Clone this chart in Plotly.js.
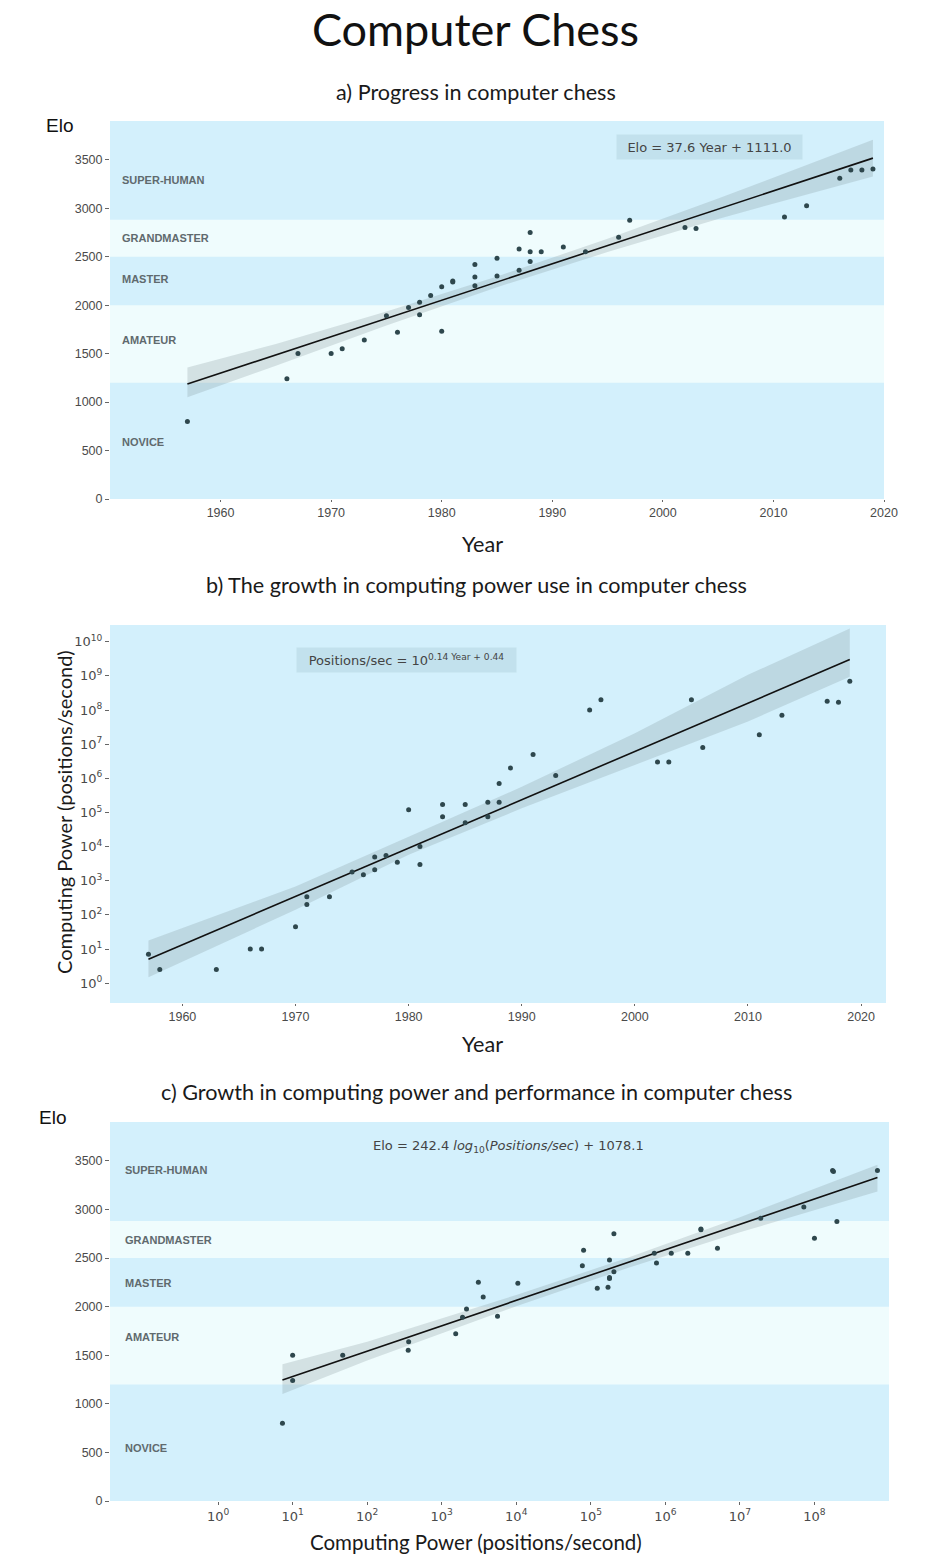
<!DOCTYPE html>
<html>
<head>
<meta charset="utf-8">
<script src="https://cdn.plot.ly/plotly-3.0.1.min.js"></script>
<style>html,body{margin:0;padding:0;background:#fff;}#chart{width:951px;height:1560px;}</style>
</head>
<body>
<div id="chart"></div>
<script>
// ---------- Panel a: Elo vs Year ----------
const yearA = [1957,1966,1967,1970,1971,1973,1975,1976,1977,1978,1978,1979,1980,1980,1981,1981,1983,1983,1983,1985,1985,1987,1987,1988,1988,1988,1989,1991,1993,1996,1997,2002,2003,2011,2013,2016,2017,2018,2019];
const eloA  = [800,1240,1500,1500,1550,1640,1890,1720,1975,2030,1900,2100,2190,1730,2250,2240,2420,2290,2200,2485,2300,2580,2360,2750,2550,2450,2550,2600,2550,2700,2875,2800,2790,2910,3025,3310,3395,3395,3405];
const fitYearA = [1957, 2019];
const fitEloA  = [1186, 3517];
const bandYearA  = [1957,1965,1975,1985,1995,2005,2019];
const bandUpperA = [1356,1600,1935,2295,2685,3100,3706];
const bandLowerA = [1050,1375,1790,2185,2548,2890,3328];

// ---------- Panel b: positions/sec vs Year ----------
const yearB = [1957,1958,1963,1966,1967,1970,1971,1971,1973,1975,1976,1977,1977,1978,1979,1980,1981,1981,1983,1983,1985,1985,1987,1987,1988,1988,1989,1991,1993,1996,1997,2002,2003,2005,2006,2011,2013,2017,2018,2019];
const posB  = [7,2.5,2.5,10,10,45,340,200,340,1800,1500,5000,2100,5500,3500,120000,10000,3000,170000,75000,170000,50000,200000,75000,200000,710000,2000000,5000000,1200000,1e8,2e8,3e6,3e6,2e8,8e6,1.9e7,7e7,1.8e8,1.7e8,7e8];
const fitYearB = [1957, 2019];
const fitPosB  = [5.0, 3.0e9];
const bandYearB  = [1957,1970,1980,1990,2000,2010,2019];
const bandUpperB = [17.8, 676, 19500, 562000, 2.1e7, 1.07e9, 2.45e10];
const bandLowerB = [1.5, 141, 5750, 132000, 2.45e6, 4.6e7, 9.5e8];

// ---------- Panel c: Elo vs positions/sec ----------
const posC = [7.3,10,10,47,360,355,1540,1900,2150,3100,3600,5600,10500,77000,80000,122000,170000,178000,178000,178000,204000,204000,710000,760000,1.2e6,2e6,3e6,3e6,5e6,1.9e7,7.2e7,1e8,1.75e8,1.8e8,2e8,7e8];
const eloC = [800,1500,1240,1500,1640,1550,1720,1890,1975,2250,2100,1900,2240,2420,2580,2190,2200,2480,2290,2300,2360,2750,2550,2450,2550,2550,2800,2790,2600,2910,3025,2705,3400,3390,2875,3400];
const fitPosC = [7.3, 7e8];
const fitEloC = [1246, 3328];
const bandPosC   = [7.3, 100, 1e4, 3.2e5, 1e7, 7e8];
const bandUpperC = [1407, 1640, 2120, 2505, 2920, 3459];
const bandLowerC = [1101, 1445, 2005, 2400, 2765, 3184];

// ---------- Tick labels ----------
const yearTicks = [1960,1970,1980,1990,2000,2010,2020];
const eloTicks = [0,500,1000,1500,2000,2500,3000,3500];
const logTicksB = [1,10,100,1e3,1e4,1e5,1e6,1e7,1e8,1e9,1e10];
const logTextB = ['10<sup>0</sup>','10<sup>1</sup>','10<sup>2</sup>','10<sup>3</sup>','10<sup>4</sup>','10<sup>5</sup>','10<sup>6</sup>','10<sup>7</sup>','10<sup>8</sup>','10<sup>9</sup>','10<sup>10</sup>'];
const logTicksC = [1,10,100,1e3,1e4,1e5,1e6,1e7,1e8];
const logTextC = ['10<sup>0</sup>','10<sup>1</sup>','10<sup>2</sup>','10<sup>3</sup>','10<sup>4</sup>','10<sup>5</sup>','10<sup>6</sup>','10<sup>7</sup>','10<sup>8</sup>'];

// ---------- Elo category bands ----------
const bandNames = ['NOVICE','AMATEUR','MASTER','GRANDMASTER','SUPER-HUMAN'];
const bandFrom  = [0, 1200, 2000, 2500, 2880];
const bandTo    = [1200, 2000, 2500, 2880, 3900];
const bandLabelEloA = [588, 1641, 2271, 2695, 3293];
const bandLabelEloC = [546, 1688, 2244, 2687, 3407];

// ---------- styling ----------
const W = 951, H = 1560;
const BG_DARK = '#d3f0fc', BG_LIGHT = '#effcfd';
const PT = '#2e474d';
const BANDFILL = 'rgba(115,130,135,0.22)';
const TICKFONT = {family: 'Liberation Sans, Arial, sans-serif', size: 12.5, color: '#4a4a4a'};
const px = (x) => x / W;
const py = (y) => 1 - y / H;

function bandTrace(xs, up, lo, xa, ya) {
  return {x: xs.concat(xs.slice().reverse()), y: up.concat(lo.slice().reverse()),
    fill: 'toself', fillcolor: BANDFILL, line: {width: 0}, mode: 'lines',
    xaxis: xa, yaxis: ya, hoverinfo: 'skip', showlegend: false};
}
function pts(xs, ys, xa, ya) {
  return {x: xs, y: ys, mode: 'markers', marker: {size: 5, color: PT},
    xaxis: xa, yaxis: ya, showlegend: false};
}
function fit(xs, ys, xa, ya) {
  return {x: xs, y: ys, mode: 'lines', line: {color: '#111', width: 1.6},
    xaxis: xa, yaxis: ya, showlegend: false};
}

const traces = [
  bandTrace(bandYearA, bandUpperA, bandLowerA, 'x', 'y'),
  fit(fitYearA, fitEloA, 'x', 'y'),
  pts(yearA, eloA, 'x', 'y'),
  bandTrace(bandYearB, bandUpperB, bandLowerB, 'x2', 'y2'),
  fit(fitYearB, fitPosB, 'x2', 'y2'),
  pts(yearB, posB, 'x2', 'y2'),
  bandTrace(bandPosC, bandUpperC, bandLowerC, 'x3', 'y3'),
  fit(fitPosC, fitEloC, 'x3', 'y3'),
  pts(posC, eloC, 'x3', 'y3')
];

// shapes: lighter bands for AMATEUR and GRANDMASTER in panels a and c
const shapes = [];
[['x','y'],['x3','y3']].forEach(([xa, ya]) => {
  for (let i = 0; i < bandNames.length; i++) {
    if (i % 2 === 1) {
      shapes.push({type: 'rect', xref: xa + ' domain', yref: ya, x0: 0, x1: 1,
        y0: bandFrom[i], y1: bandTo[i], fillcolor: BG_LIGHT, line: {width: 0}, layer: 'below'});
    }
  }
});

const LATO = 'Lato, sans-serif';
const SUBFONT = {family: LATO, size: 21.6, color: '#1a1a1a'};
const annotations = [];
function ann(text, x, y, font, extra) {
  annotations.push(Object.assign({text: text, x: px(x), y: py(y), xref: 'paper', yref: 'paper',
    showarrow: false, xanchor: 'center', yanchor: 'middle', font: font}, extra || {}));
}
ann('a) Progress in computer chess', 476, 92, SUBFONT);
ann('Elo', 59, 125, {family: 'Liberation Sans, Arial', size: 19, color: '#111'});
ann('Year', 483, 544, SUBFONT);
ann('b) The growth in computing power use in computer chess', 476, 585, SUBFONT);
ann('Computing Power (positions/second)', 64, 812, {family: LATO, size: 20, color: '#1a1a1a'}, {textangle: -90});
ann('Year', 483, 1044, SUBFONT);
ann('c) Growth in computing power and performance in computer chess', 476, 1092, SUBFONT);
ann('Elo', 52, 1117, {family: 'Liberation Sans, Arial', size: 19, color: '#111'});
ann('Computing Power (positions/second)', 476, 1542, {family: LATO, size: 20.5, color: '#1a1a1a'});

const EQFONT = {family: 'DejaVu Sans, sans-serif', size: 13, color: '#444'};
ann('Elo = 37.6 Year + 1111.0', 709, 147, EQFONT, {bgcolor: 'rgba(150,185,198,0.28)', width: 183, height: 22});
ann('Positions/sec = 10<sup>0.14 Year + 0.44</sup>', 406, 660, EQFONT, {bgcolor: 'rgba(150,185,198,0.28)', width: 217, height: 22});
ann('Elo = 242.4 <i>log</i><sub>10</sub>(<i>Positions/sec</i>) + 1078.1', 508, 1146, EQFONT);

const LABFONT = {family: 'Liberation Sans, Arial, sans-serif', size: 11, color: '#5f6a6e', weight: 'bold'};
for (let i = 0; i < bandNames.length; i++) {
  annotations.push({text: '<b>' + bandNames[i] + '</b>', xref: 'paper', yref: 'y', x: px(120), y: bandLabelEloA[i],
    xanchor: 'left', yanchor: 'middle', showarrow: false, font: LABFONT});
  annotations.push({text: '<b>' + bandNames[i] + '</b>', xref: 'paper', yref: 'y3', x: px(123), y: bandLabelEloC[i],
    xanchor: 'left', yanchor: 'middle', showarrow: false, font: LABFONT});
}

function axisBase(extra) {
  return Object.assign({showgrid: false, zeroline: false, showline: false, ticks: 'outside',
    ticklen: 4, tickcolor: '#666', tickwidth: 1, tickfont: TICKFONT, fixedrange: true}, extra);
}

const layout = {
  width: W, height: H,
  margin: {l: 0, r: 0, t: 0, b: 0},
  paper_bgcolor: '#ffffff',
  plot_bgcolor: BG_DARK,
  showlegend: false,
  title: {text: 'Computer Chess', x: 0.5, xanchor: 'center', y: py(30), yanchor: 'middle',
    font: {family: LATO, size: 45, color: '#111'}},
  xaxis: axisBase({domain: [px(110), px(884)], anchor: 'y', range: [1950, 2020],
    tickmode: 'array', tickvals: yearTicks, ticklen: 2}),
  yaxis: axisBase({domain: [py(499), py(121)], anchor: 'x', range: [0, 3900],
    tickmode: 'array', tickvals: eloTicks}),
  xaxis2: axisBase({domain: [px(110), px(886)], anchor: 'y2', range: [1953.6, 2022.2],
    tickmode: 'array', tickvals: yearTicks, ticklen: 2}),
  yaxis2: axisBase({domain: [py(1003), py(625)], anchor: 'x2', type: 'log', range: [-0.58, 10.49],
    tickmode: 'array', tickvals: logTicksB, ticktext: logTextB,
    tickfont: {family: 'DejaVu Sans, sans-serif', size: 13, color: '#4a4a4a'}}),
  xaxis3: axisBase({domain: [px(110), px(889)], anchor: 'y3', type: 'log', range: [-1.45, 9.0],
    tickmode: 'array', tickvals: logTicksC, ticktext: logTextC, ticklen: 3,
    tickfont: {family: 'DejaVu Sans, sans-serif', size: 13, color: '#4a4a4a'}}),
  yaxis3: axisBase({domain: [py(1501), py(1122)], anchor: 'x3', range: [0, 3900],
    tickmode: 'array', tickvals: eloTicks}),
  shapes: shapes,
  annotations: annotations
};

Plotly.newPlot('chart', traces, layout, {displayModeBar: false, staticPlot: true});
</script>
</body>
</html>
